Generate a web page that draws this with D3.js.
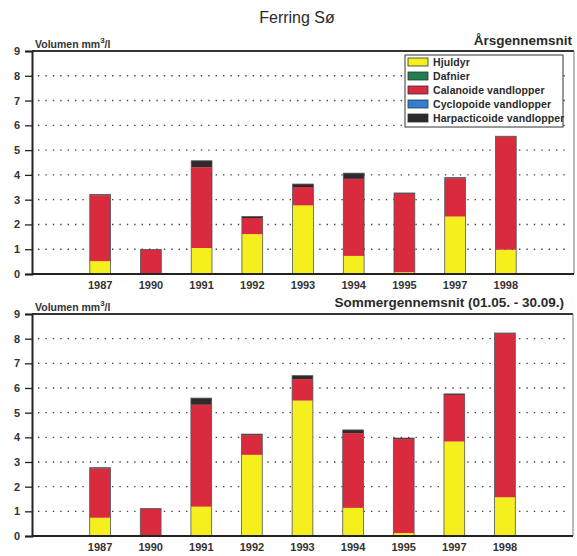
<!DOCTYPE html>
<html>
<head>
<meta charset="utf-8">
<script src="https://cdn.jsdelivr.net/npm/d3@7"></script>
<style>
  body { margin: 0; background: #fff; }
  svg { display: block; font-family: "Liberation Sans", Arial, sans-serif; }
</style>
</head>
<body>
<svg id="chart" width="577" height="556"></svg>
<script>
const years = ["1987", "1990", "1991", "1992", "1993", "1994", "1995", "1997", "1998"];
const seriesNames = ["Hjuldyr", "Dafnier", "Calanoide vandlopper", "Cyclopoide vandlopper", "Harpacticoide vandlopper"];
const seriesColors = ["#f6ef1e", "#1f7f4f", "#d92a3e", "#2f7fd6", "#2e2a2a"];
const yTicks = [0, 1, 2, 3, 4, 5, 6, 7, 8, 9];

// Årsgennemsnit
const aarHjuldyr   = [0.52, 0.02, 1.05, 1.61, 2.77, 0.73, 0.07, 2.32, 0.98];
const aarDafnier   = [0, 0, 0, 0, 0, 0, 0, 0, 0];
const aarCalanoide = [2.66, 0.96, 3.26, 0.65, 0.74, 3.11, 3.17, 1.54, 4.56];
const aarCyclopoide= [0, 0, 0, 0, 0, 0, 0, 0, 0];
const aarHarpact   = [0.03, 0.01, 0.26, 0.06, 0.12, 0.23, 0.03, 0.03, 0.02];

// Sommergennemsnit
const somHjuldyr   = [0.74, 0.02, 1.19, 3.29, 5.49, 1.14, 0.12, 3.83, 1.57];
const somDafnier   = [0, 0, 0, 0, 0, 0, 0, 0, 0];
const somCalanoide = [2.00, 1.08, 4.13, 0.80, 0.87, 3.03, 3.81, 1.89, 6.64];
const somCyclopoide= [0, 0, 0, 0, 0, 0, 0, 0, 0];
const somHarpact   = [0.03, 0.01, 0.27, 0.04, 0.14, 0.13, 0.04, 0.04, 0.02];

const svg = d3.select("#chart");

svg.append("text").attr("x", 297).attr("y", 23).attr("text-anchor", "middle")
  .attr("font-size", 16).attr("fill", "#2a2a2a").text("Ferring Sø");

function buildRows(h, d, c, cy, hp) {
  return years.map((y, i) => ({ year: y, s0: h[i], s1: d[i], s2: c[i], s3: cy[i], s4: hp[i] }));
}

function drawPanel(opts) {
  const { top, bottom, left, right, rows, subtitle, subX, subY, volY, labelY, legend } = opts;
  const g = svg.append("g");
  const x = d3.scaleBand().domain(years).range([left, right]).paddingInner(0.59).paddingOuter(1.14);
  const y = d3.scaleLinear().domain([0, 9]).range([bottom, top]);

  // dotted gridlines
  g.append("g").selectAll("line").data(yTicks.filter(t => t > 0 && t < 9)).join("line")
    .attr("x1", left + 6).attr("x2", right - 4)
    .attr("y1", d => y(d)).attr("y2", d => y(d))
    .attr("stroke", "#444").attr("stroke-width", 1.4)
    .attr("stroke-dasharray", "1.4,6").attr("stroke-linecap", "butt");

  // frame top and right
  g.append("line").attr("x1", left).attr("x2", right).attr("y1", top).attr("y2", top)
    .attr("stroke", "#333").attr("stroke-width", 1.8);
  g.append("line").attr("x1", right).attr("x2", right).attr("y1", top).attr("y2", bottom)
    .attr("stroke", "#777").attr("stroke-width", 1);

  // stacks
  const stack = d3.stack().keys(["s0", "s1", "s2", "s3", "s4"]);
  const layers = stack(rows);
  const bars = g.append("g");
  layers.forEach((layer, li) => {
    bars.append("g").selectAll("rect").data(layer).join("rect")
      .attr("x", d => x(d.data.year))
      .attr("width", x.bandwidth())
      .attr("y", d => y(d[1]))
      .attr("height", d => Math.max(0, y(d[0]) - y(d[1])))
      .attr("fill", seriesColors[li]);
  });
  // bar outlines
  bars.append("g").selectAll("rect").data(rows).join("rect")
    .attr("x", d => x(d.year)).attr("width", x.bandwidth())
    .attr("y", d => y(d.s0 + d.s1 + d.s2 + d.s3 + d.s4))
    .attr("height", d => y(0) - y(d.s0 + d.s1 + d.s2 + d.s3 + d.s4))
    .attr("fill", "none").attr("stroke", "#555").attr("stroke-width", 0.8);

  // y axis
  const yAxis = d3.axisLeft(y).tickValues(yTicks).tickSize(7).tickPadding(5).tickFormat(d3.format("d"));
  const ya = g.append("g").attr("transform", `translate(${left},0)`).call(yAxis);
  ya.select(".domain").attr("stroke", "#222").attr("stroke-width", 2);
  ya.selectAll(".tick line").attr("stroke", "#222").attr("stroke-width", 1.3);
  ya.selectAll(".tick text").attr("font-size", 11).attr("font-weight", "bold").attr("fill", "#333")
    .attr("font-family", "Liberation Sans, Arial, sans-serif");

  // x axis
  const xAxis = d3.axisBottom(x).tickSize(0).tickPadding(labelY - bottom - 8);
  const xa = g.append("g").attr("transform", `translate(0,${bottom})`).call(xAxis);
  xa.select(".domain").attr("stroke", "#222").attr("stroke-width", 2)
    .attr("d", `M${left},0H${right}`);
  xa.selectAll(".tick text").attr("font-size", 11).attr("font-weight", "bold").attr("fill", "#333")
    .attr("font-family", "Liberation Sans, Arial, sans-serif");

  // y label
  const vt = g.append("text").attr("x", left + 3).attr("y", volY).attr("font-size", 10.5)
    .attr("font-weight", "bold").attr("fill", "#333");
  vt.append("tspan").text("Volumen mm");
  vt.append("tspan").attr("dy", -5).attr("font-size", 8).text("3");
  vt.append("tspan").attr("dy", 5).text("/l");

  g.append("text").attr("x", subX).attr("y", subY).attr("text-anchor", "end")
    .attr("font-size", 13.5).attr("fill", "#2a2a2a").attr("font-weight", "bold").text(subtitle);

  if (legend) {
    const lg = g.append("g");
    lg.append("rect").attr("x", 405).attr("y", 55).attr("width", 158).attr("height", 72)
      .attr("fill", "#fff").attr("stroke", "#333").attr("stroke-width", 1);
    seriesNames.forEach((n, i) => {
      const ry = 62 + i * 14;
      lg.append("rect").attr("x", 408).attr("y", ry - 4).attr("width", 20).attr("height", 8)
        .attr("fill", seriesColors[i]).attr("stroke", "#333").attr("stroke-width", 0.8);
      lg.append("text").attr("x", 433).attr("y", ry + 4).attr("font-size", 10.5)
        .attr("font-weight", "bold").attr("fill", "#2a2a2a").attr("letter-spacing", 0.1).text(n);
    });
  }
}

drawPanel({
  top: 51, bottom: 274, left: 32, right: 574,
  rows: buildRows(aarHjuldyr, aarDafnier, aarCalanoide, aarCyclopoide, aarHarpact),
  subtitle: "Årsgennemsnit", subX: 572, subY: 45, volY: 48, labelY: 289, legend: true
});
drawPanel({
  top: 314, bottom: 536, left: 32, right: 573,
  rows: buildRows(somHjuldyr, somDafnier, somCalanoide, somCyclopoide, somHarpact),
  subtitle: "Sommergennemsnit (01.05. - 30.09.)", subX: 564, subY: 307, volY: 311, labelY: 551, legend: false
});
</script>
</body>
</html>
